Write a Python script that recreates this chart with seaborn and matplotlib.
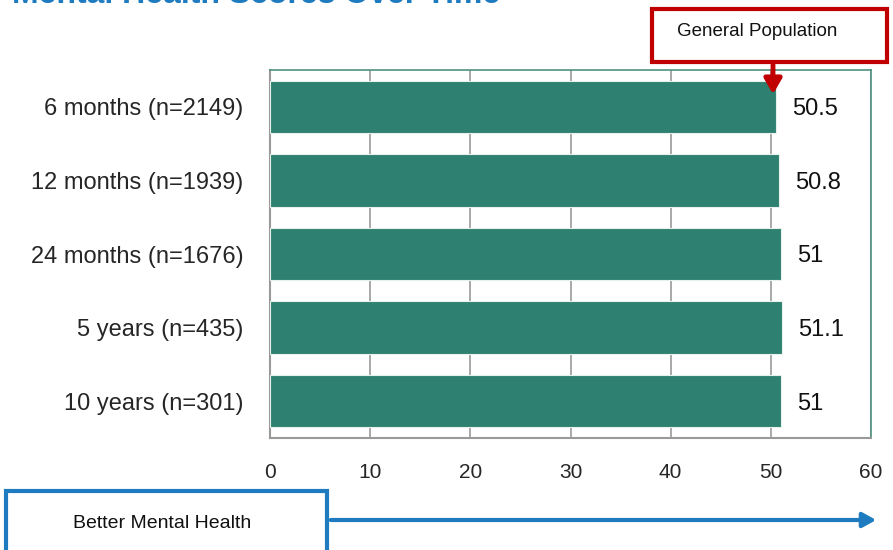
import matplotlib
matplotlib.use("Agg")
import matplotlib.pyplot as plt
from matplotlib.patches import Rectangle, FancyArrowPatch
import seaborn as sns
import pandas as pd

# Mean mental health component scores at each follow-up
categories = ["6 months (n=2149)", "12 months (n=1939)", "24 months (n=1676)",
              "5 years (n=435)", "10 years (n=301)"]
scores = [50.5, 50.8, 51, 51.1, 51]
score_labels = ["50.5", "50.8", "51", "51.1", "51"]
x_ticks = [0, 10, 20, 30, 40, 50, 60]

title_text = "Mental Health Scores Over Time"
callout_text = "General Population"
direction_text = "Better Mental Health"

sns.set_theme(style="white")
plt.rcParams["font.family"] = ["Liberation Sans", "DejaVu Sans"]

bar_color = "#2E8070"
frame_green = "#4E9180"
grid_gray = "#999999"
red = "#C00000"
blue = "#1F7BC0"

df = pd.DataFrame({"category": categories, "score": scores})

fig = plt.figure(figsize=(8.93, 5.50), dpi=100)
ax = fig.add_axes([270 / 893, 1 - 438 / 550, (871 - 270) / 893, (438 - 70) / 550])

sns.barplot(data=df, x="score", y="category", orient="h", color=bar_color,
            saturation=1, width=0.71, edgecolor="#E8F0EC", linewidth=0.8, ax=ax,
            zorder=3)

ax.set_xlim(0, 60)
ax.set_ylim(4.5, -0.5)
ax.set_xticks(x_ticks)
ax.set_xticklabels([str(t) for t in x_ticks], fontsize=15)
ax.set_yticks([i - 0.5 for i in range(len(categories) + 1)], minor=False)
ax.set_yticklabels([])
ax.set_yticks(range(len(categories)), minor=True)
ax.set_yticklabels(categories, minor=True, fontsize=17)
ax.tick_params(axis="y", which="minor", length=0, pad=19)
ax.tick_params(axis="y", which="major", length=7, width=1.5, color=grid_gray, direction="out")
ax.tick_params(axis="x", length=7, width=1.5, color=grid_gray, direction="out", pad=11)
ax.set_xlabel("")
ax.set_ylabel("")

ax.grid(axis="x", color=grid_gray, linewidth=1.2, zorder=0)
ax.set_axisbelow(True)
for side in ("left", "bottom"):
    ax.spines[side].set_color(grid_gray)
    ax.spines[side].set_linewidth(1.5)
for side in ("top", "right"):
    ax.spines[side].set_color(frame_green)
    ax.spines[side].set_linewidth(1.2)

for i, (v, lab) in enumerate(zip(scores, score_labels)):
    ax.annotate(lab, xy=(v, i), xytext=(12, 0), textcoords="offset points",
                ha="left", va="center_baseline", fontsize=17, color="#111111")

# Title, partially above the canvas
fig.text(12 / 893, 1 - 3 / 550, title_text, ha="left", va="baseline",
         fontsize=23, fontweight="bold", color=blue)

# "General Population" callout box with arrow pointing at the 50.5 bar end
fig.patches.append(Rectangle((652 / 893, 1 - 62 / 550), (887 - 652) / 893, (62 - 9) / 550,
                             transform=fig.transFigure, facecolor="white",
                             edgecolor=red, linewidth=3, zorder=5))
fig.text(757 / 893, 1 - 32 / 550, callout_text, ha="center", va="center",
         fontsize=13.5, color="#111111", zorder=6)
fig.patches.append(FancyArrowPatch((773 / 893, 1 - 62 / 550), (773 / 893, 1 - 97 / 550),
                                   transform=fig.transFigure,
                                   arrowstyle="-|>,head_length=4.5,head_width=2.6",
                                   mutation_scale=2, color=red, linewidth=3.5, zorder=6))

# "Better Mental Health" direction box and arrow
fig.patches.append(Rectangle((6 / 893, 1 - 556 / 550), (327 - 6) / 893, (556 - 491) / 550,
                             transform=fig.transFigure, facecolor="white",
                             edgecolor=blue, linewidth=3, zorder=5))
fig.text(162 / 893, 1 - 523 / 550, direction_text, ha="center", va="center",
         fontsize=14, color="#111111", zorder=6)
fig.patches.append(FancyArrowPatch((328 / 893, 1 - 520 / 550), (879 / 893, 1 - 520 / 550),
                                   transform=fig.transFigure,
                                   arrowstyle="-|>,head_length=4,head_width=2.2",
                                   mutation_scale=2, color=blue, linewidth=3, zorder=6))

fig.savefig("out.png", dpi=100)
